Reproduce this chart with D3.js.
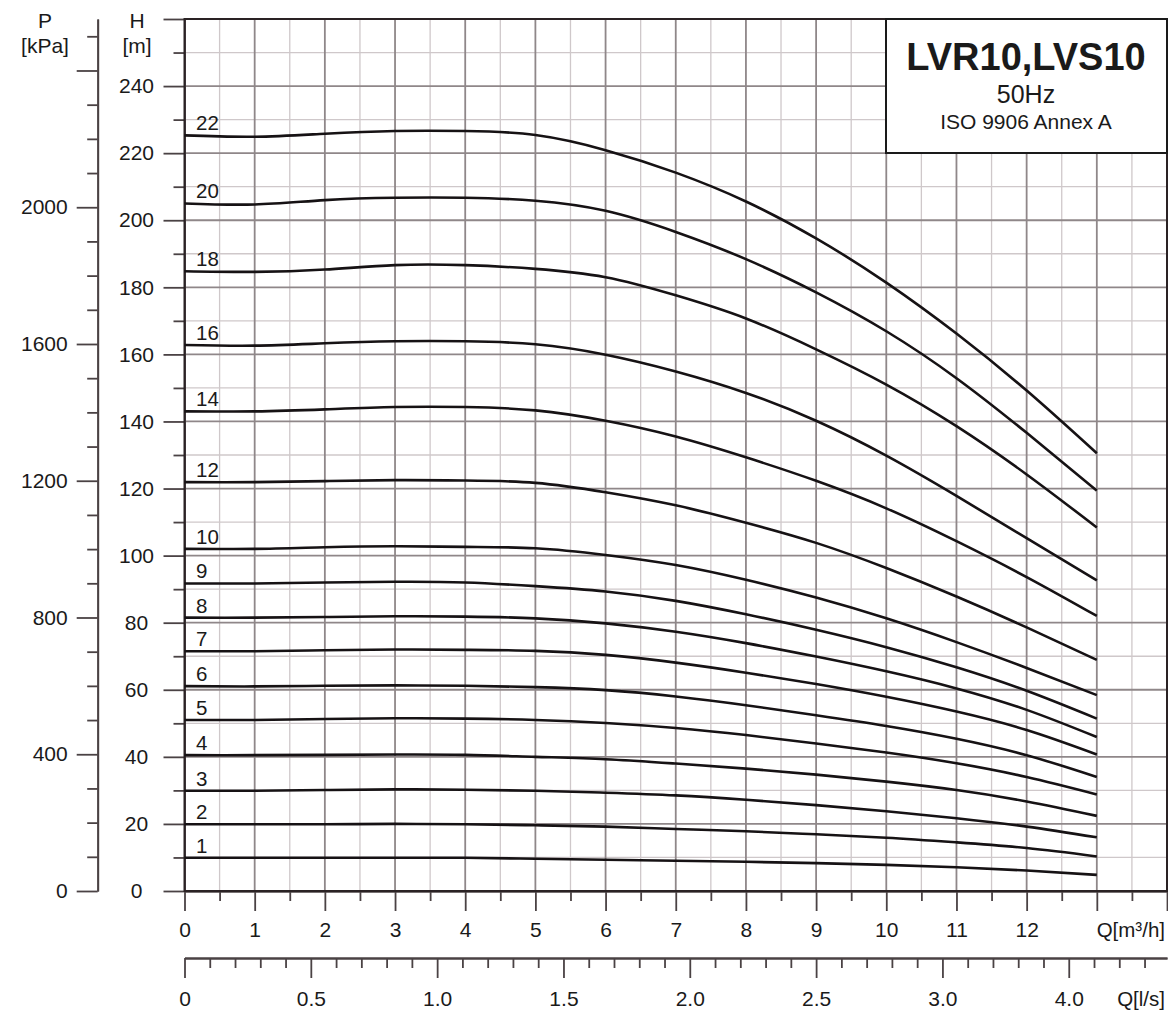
<!DOCTYPE html>
<html>
<head>
<meta charset="utf-8">
<script src="https://cdn.jsdelivr.net/npm/d3@7"></script>
<style>
  body { margin: 0; background: #fff; }
  svg { display: block; font-family: "Liberation Sans", Arial, Helvetica, sans-serif; }
  .grid-minor { stroke: #cfc8ca; stroke-width: 1.3; }
  .grid-major { stroke: #8f8789; stroke-width: 1.8; }
  .axis path, .axis line { stroke: #4a4244; stroke-width: 1.8; }
  .axis text { font-size: 21px; fill: #1a1a1a; font-family: "Liberation Sans", Arial, sans-serif; }
  .curve { fill: none; stroke: #161214; stroke-width: 2.6; }
  .lbl { font-size: 20.5px; fill: #1a1a1a; }
</style>
</head>
<body>
<svg id="chart" width="1168" height="1013"></svg>
<script>
// flow points [m3/h] where the head values were read
var flowQ = [0, 1, 2, 3, 4, 5, 6, 7, 8, 9, 10, 11, 12, 13];

// number of stages of each curve
var stages = ['1', '2', '3', '4', '5', '6', '7', '8', '9', '10', '12', '14', '16', '18', '20', '22'];

// head H [m] per stage, one row per entry of stages
var heads = [
  [9.9, 9.9, 9.9, 9.9, 9.9, 9.6, 9.3, 9.0, 8.7, 8.3, 7.8, 7.1, 6.1, 4.8],
  [19.9, 19.9, 19.9, 20.0, 19.9, 19.6, 19.2, 18.5, 17.8, 16.9, 15.9, 14.5, 12.8, 10.3],
  [29.9, 29.9, 30.1, 30.3, 30.2, 29.9, 29.3, 28.5, 27.2, 25.6, 23.8, 21.7, 19.2, 16.0],
  [40.5, 40.5, 40.6, 40.7, 40.6, 40.0, 39.3, 38.0, 36.5, 34.7, 32.6, 30.1, 26.7, 22.4],
  [51.0, 51.0, 51.3, 51.5, 51.4, 51.0, 50.1, 48.6, 46.5, 44.0, 41.3, 38.1, 34.0, 28.8],
  [61.1, 61.0, 61.2, 61.3, 61.2, 60.8, 59.9, 58.0, 55.4, 52.4, 49.2, 45.4, 40.5, 34.0],
  [71.5, 71.5, 71.8, 72.0, 71.9, 71.6, 70.4, 68.1, 65.1, 61.7, 57.9, 53.5, 48.0, 40.7],
  [81.5, 81.5, 81.7, 81.9, 81.8, 81.3, 79.8, 77.3, 73.9, 69.9, 65.5, 60.4, 54.0, 45.9],
  [91.7, 91.7, 92.0, 92.2, 92.0, 90.9, 89.3, 86.5, 82.5, 77.9, 72.7, 66.7, 59.7, 51.4],
  [102.0, 102.0, 102.5, 102.8, 102.6, 102.2, 100.2, 97.2, 92.8, 87.5, 81.3, 74.2, 66.5, 58.4],
  [121.9, 121.9, 122.2, 122.5, 122.4, 121.7, 118.9, 115.0, 109.8, 103.8, 96.3, 87.8, 78.6, 68.9],
  [143.0, 143.0, 143.6, 144.3, 144.3, 143.3, 140.2, 135.5, 129.3, 122.3, 114.1, 104.3, 93.6, 82.0],
  [162.8, 162.6, 163.3, 163.9, 163.9, 163.0, 159.9, 154.9, 148.5, 140.2, 129.8, 117.8, 105.2, 92.6],
  [184.8, 184.6, 185.3, 186.6, 186.6, 185.5, 183.0, 177.6, 170.7, 161.5, 151.0, 138.6, 124.2, 108.4],
  [205.0, 204.7, 206.0, 206.7, 206.7, 205.8, 202.8, 196.5, 188.4, 178.5, 166.9, 152.9, 136.6, 119.4],
  [225.3, 224.9, 225.8, 226.6, 226.6, 225.4, 220.9, 214.2, 205.6, 194.6, 181.4, 166.2, 149.2, 130.5]
];

// axis ticks and labels
var hMajor = [0, 20, 40, 60, 80, 100, 120, 140, 160, 180, 200, 220, 240, 260];
var hLabels = ['0', '20', '40', '60', '80', '100', '120', '140', '160', '180', '200', '220', '240', ''];
var pMajor = [0, 400, 800, 1200, 1600, 2000, 2400];
var pLabels = ['0', '400', '800', '1200', '1600', '2000', ''];
var qMajor = [0, 1, 2, 3, 4, 5, 6, 7, 8, 9, 10, 11, 12, 13, 14];
var qLabels = ['0', '1', '2', '3', '4', '5', '6', '7', '8', '9', '10', '11', '12', '', ''];
var lsMajor = [0, 0.5, 1.0, 1.5, 2.0, 2.5, 3.0, 3.5];
var lsLabels = ['0', '0.5', '1.0', '1.5', '2.0', '2.5', '3.0', '4.0'];

var svg = d3.select('#chart');

var x = d3.scaleLinear().domain([0, 14]).range([184.5, 1167]);
var y = d3.scaleLinear().domain([0, 260]).range([891, 19]);
var yP = d3.scaleLinear().domain([0, 260 * 9.81]).range([891, 19]);
var xLs = d3.scaleLinear().domain([0, 14 / 3.6]).range([184.5, 1167]);

/* Grid */
var vLines = d3.range(1, 28).map(function (i) { return i / 2; });
var hLines = d3.range(10, 260, 10);
var grid = svg.append('g');

grid.selectAll('line.vmin')
  .data(vLines.filter(function (d) { return d % 1 !== 0; }))
  .enter().append('line')
  .attr('class', 'grid-minor')
  .attr('x1', x).attr('x2', x)
  .attr('y1', y(0)).attr('y2', y(260));

grid.selectAll('line.hmin')
  .data(hLines.filter(function (d) { return d % 20 !== 0; }))
  .enter().append('line')
  .attr('class', 'grid-minor')
  .attr('x1', x(0)).attr('x2', x(14))
  .attr('y1', y).attr('y2', y);

grid.selectAll('line.vmaj')
  .data(vLines.filter(function (d) { return d % 1 === 0; }))
  .enter().append('line')
  .attr('class', 'grid-major')
  .attr('x1', x).attr('x2', x)
  .attr('y1', y(0)).attr('y2', y(260));

grid.selectAll('line.hmaj')
  .data(hLines.filter(function (d) { return d % 20 === 0; }))
  .enter().append('line')
  .attr('class', 'grid-major')
  .attr('x1', x(0)).attr('x2', x(14))
  .attr('y1', y).attr('y2', y);

/* Axes */
function axisGroup(tx, ty) {
  return svg.append('g').attr('class', 'axis').attr('transform', 'translate(' + tx + ',' + ty + ')');
}

// H [m]
axisGroup(x(0), 0).call(d3.axisLeft(y)
  .tickValues(hLines.filter(function (d) { return d % 20 !== 0; }))
  .tickSize(11).tickSizeOuter(0).tickFormat(''));
var hAxis = axisGroup(x(0), 0).call(d3.axisLeft(y)
  .tickValues(hMajor).tickSize(21).tickSizeOuter(0)
  .tickFormat(function (d, i) { return hLabels[i]; }));
hAxis.selectAll('text').attr('text-anchor', 'middle').attr('x', 136.5 - x(0));

// P [kPa]
axisGroup(97.7, 0).call(d3.axisLeft(yP)
  .tickValues(d3.range(100, 2600, 100).filter(function (d) { return d % 400 !== 0; }))
  .tickSize(10.5).tickSizeOuter(0).tickFormat(''));
axisGroup(97.7, 0).call(d3.axisLeft(yP)
  .tickValues(pMajor).tickSize(21).tickSizeOuter(0).tickPadding(9)
  .tickFormat(function (d, i) { return pLabels[i]; }));

// Q [m3/h]
axisGroup(0, y(0)).call(d3.axisBottom(x)
  .tickValues(d3.range(0.5, 14, 1)).tickSize(10).tickSizeOuter(0).tickFormat(''));
axisGroup(0, y(0)).call(d3.axisBottom(x)
  .tickValues(qMajor).tickSize(20).tickSizeOuter(0).tickPadding(11)
  .tickFormat(function (d, i) { return qLabels[i]; }));

// Q [l/s]
axisGroup(0, 958).call(d3.axisBottom(xLs)
  .tickValues(d3.range(1, 39).map(function (i) { return i / 10; }).filter(function (d, i) { return (i + 1) % 5 !== 0; }))
  .tickSize(10).tickSizeOuter(0).tickFormat(''));
axisGroup(0, 958).call(d3.axisBottom(xLs)
  .tickValues(lsMajor).tickSize(20).tickSizeOuter(0).tickPadding(13)
  .tickFormat(function (d, i) { return lsLabels[i]; }));

/* Frame */
svg.append('rect')
  .attr('x', x(0)).attr('y', y(260))
  .attr('width', x(14) - x(0)).attr('height', y(0) - y(260))
  .attr('fill', 'none').attr('stroke', '#2a2224').attr('stroke-width', 2);

/* Curves */
var line = d3.line()
  .x(function (d, i) { return x(flowQ[i]); })
  .y(function (d) { return y(d); })
  .curve(d3.curveNatural);

svg.append('g').selectAll('path')
  .data(heads)
  .enter().append('path')
  .attr('class', 'curve')
  .attr('d', line);

svg.append('g').selectAll('text')
  .data(heads)
  .enter().append('text')
  .attr('class', 'lbl')
  .attr('x', 196)
  .attr('y', function (d) { return y(d[0]) - 5; })
  .text(function (d, i) { return stages[i]; });

/* Units */
function label(tx, ty, txt, anchor, size) {
  return svg.append('text')
    .attr('x', tx).attr('y', ty)
    .attr('text-anchor', anchor)
    .style('font-size', size + 'px')
    .style('fill', '#1a1a1a')
    .text(txt);
}
label(45, 27.5, 'P', 'middle', 21);
label(45, 53, '[kPa]', 'middle', 21);
label(137, 27.5, 'H', 'middle', 21);
label(137, 53, '[m]', 'middle', 21);
label(1165, 936.5, 'Q[m\u00b3/h]', 'end', 20.5);
label(1165, 1005.5, 'Q[l/s]', 'end', 20.5);

/* Title box */
svg.append('rect')
  .attr('x', 886).attr('y', 19)
  .attr('width', 1167 - 886).attr('height', 134)
  .attr('fill', '#fff').attr('stroke', '#1a1a1a').attr('stroke-width', 2);
label(1026, 70, 'LVR10,LVS10', 'middle', 38).style('font-weight', 'bold');
label(1026, 103, '50Hz', 'middle', 25);
label(1026, 129, 'ISO 9906 Annex A', 'middle', 21);
</script>
</body>
</html>
